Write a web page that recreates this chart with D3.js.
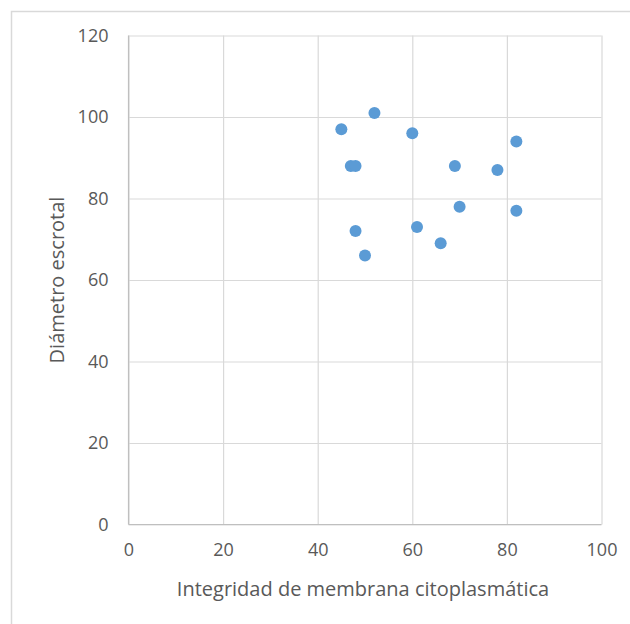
<!DOCTYPE html>
<html>
<head>
<meta charset="utf-8">
<script src="https://cdn.jsdelivr.net/npm/d3@7"></script>
<style>
  html, body { margin: 0; padding: 0; background: #fff; }
  svg text { font-family: "Open Sans", "Noto Sans", sans-serif; fill: #595959; }
</style>
</head>
<body>
<svg id="chart" width="630" height="624"></svg>
<script>
// Integridad de membrana citoplasmática (%) vs diámetro escrotal
const integridad = [52, 45, 60, 82, 47, 48, 69, 78, 70, 82, 61, 48, 66, 50];
const diametro   = [101, 97, 96, 94, 88, 88, 88, 87, 78, 77, 73, 72, 69, 66];
const xTicks = [0, 20, 40, 60, 80, 100];
const yTicks = [0, 20, 40, 60, 80, 100, 120];
const xTitle = "Integridad de membrana citoplasmática";
const yTitle = "Diámetro escrotal";

const svg = d3.select("#chart");
const W = 630, H = 624;
const plot = { left: 128.5, right: 601.5, top: 35.5, bottom: 524.5 };

// outer chart frame
svg.append("rect")
  .attr("x", 11.5).attr("y", 11.5)
  .attr("width", W + 20).attr("height", H + 20)
  .attr("fill", "none").attr("stroke", "#d9d9d9").attr("stroke-width", 1.5);

const x = d3.scaleLinear().domain([0, 100]).range([plot.left, plot.right]);
const y = d3.scaleLinear().domain([0, 120]).range([plot.bottom, plot.top]);

// gridlines
svg.append("g")
  .attr("transform", `translate(0,${plot.bottom})`)
  .call(d3.axisBottom(x).tickValues(xTicks).tickSize(-(plot.bottom - plot.top)).tickFormat(""))
  .call(g => g.select(".domain").remove())
  .call(g => g.selectAll("line").attr("stroke", "#d9d9d9").attr("stroke-width", 1.2));
svg.append("g")
  .attr("transform", `translate(${plot.left},0)`)
  .call(d3.axisLeft(y).tickValues(yTicks).tickSize(-(plot.right - plot.left)).tickFormat(""))
  .call(g => g.select(".domain").remove())
  .call(g => g.selectAll("line").attr("stroke", "#d9d9d9").attr("stroke-width", 1.2));

// axis lines
svg.append("line")
  .attr("x1", plot.left).attr("x2", plot.right)
  .attr("y1", plot.bottom).attr("y2", plot.bottom)
  .attr("stroke", "#bfbfbf").attr("stroke-width", 1.2);
svg.append("line")
  .attr("x1", plot.left).attr("x2", plot.left)
  .attr("y1", plot.top).attr("y2", plot.bottom)
  .attr("stroke", "#bfbfbf").attr("stroke-width", 1.2);

// tick labels
const xAxis = svg.append("g")
  .attr("transform", `translate(0,${plot.bottom})`)
  .call(d3.axisBottom(x).tickValues(xTicks).tickSize(0).tickPadding(19));
xAxis.select(".domain").remove();
xAxis.selectAll("text").attr("font-size", 18).attr("fill", "#595959")
  .style("font-family", "'Open Sans', sans-serif");

const yAxis = svg.append("g")
  .attr("transform", `translate(${plot.left},0)`)
  .call(d3.axisLeft(y).tickValues(yTicks).tickSize(0).tickPadding(20));
yAxis.select(".domain").remove();
yAxis.selectAll("text").attr("font-size", 18).attr("fill", "#595959")
  .style("font-family", "'Open Sans', sans-serif");

// axis titles
svg.append("text")
  .attr("x", (plot.left + plot.right) / 2 - 2)
  .attr("y", 596)
  .attr("text-anchor", "middle")
  .attr("font-size", 20)
  .text(xTitle);
svg.append("text")
  .attr("transform", `translate(64,${(plot.top + plot.bottom) / 2}) rotate(-90)`)
  .attr("text-anchor", "middle")
  .attr("font-size", 20)
  .text(yTitle);

// data points
svg.append("g")
  .selectAll("circle")
  .data(integridad.map((v, i) => [v, diametro[i]]))
  .join("circle")
  .attr("cx", d => x(d[0]))
  .attr("cy", d => y(d[1]))
  .attr("r", 6)
  .attr("fill", "#5b9bd5");
</script>
</body>
</html>
